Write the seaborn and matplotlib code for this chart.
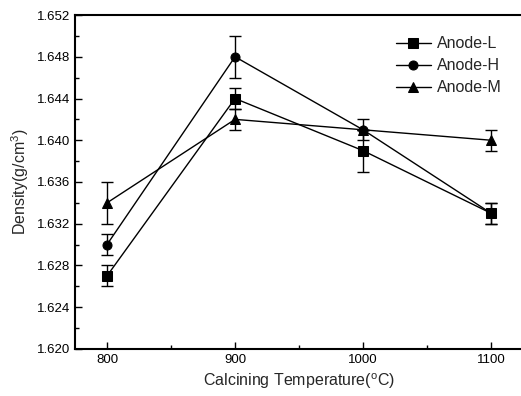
import numpy as np
import pandas as pd
import matplotlib
matplotlib.use("Agg")
import matplotlib.pyplot as plt
from matplotlib.ticker import MultipleLocator
import seaborn as sns

#Data
temps = [800, 900, 1000, 1100]
anode_l = [1.627, 1.644, 1.639, 1.633]
anode_h = [1.630, 1.648, 1.641, 1.633]
anode_m = [1.634, 1.642, 1.641, 1.640]
err_l = [0.001, 0.001, 0.002, 0.001]
err_h = [0.001, 0.002, 0.001, 0.001]
err_m = [0.002, 0.001, 0.0, 0.001]
names = ["Anode-L", "Anode-H", "Anode-M"]

df = pd.DataFrame({
    "temp": temps * 3,
    "density": anode_l + anode_h + anode_m,
    "err": err_l + err_h + err_m,
    "sample": [n for n in names for _ in temps],
})

sns.set_style("ticks")
plt.rcParams["font.family"] = ["Liberation Sans", "DejaVu Sans"]

fig = plt.figure(figsize=(5.21, 3.96), dpi=100)
ax = fig.add_axes([0.144, 0.119, 0.86, 0.843])

#Error bars
for n in names:
    d = df[df["sample"] == n]
    ax.errorbar(d["temp"], d["density"], yerr=d["err"], fmt="none",
                ecolor="black", elinewidth=1, capsize=4, capthick=1)

sns.lineplot(data=df, x="temp", y="density", style="sample",
             markers={"Anode-L": "s", "Anode-H": "o", "Anode-M": "^"},
             dashes=False, color="black", linewidth=1, markersize=6.5,
             markeredgecolor="black", ax=ax)

ax.set_xlim(775, 1125)
ax.set_ylim(1.620, 1.652)
ax.xaxis.set_major_locator(MultipleLocator(100))
ax.xaxis.set_minor_locator(MultipleLocator(50))
ax.yaxis.set_major_locator(MultipleLocator(0.004))
ax.yaxis.set_minor_locator(MultipleLocator(0.002))
ax.yaxis.set_major_formatter(matplotlib.ticker.FormatStrFormatter("%.3f"))
ax.tick_params(which="both", direction="in", colors="black", labelsize=9.5, top=False, right=False)
ax.tick_params(which="major", length=5, width=1)
ax.tick_params(which="minor", length=3, width=1)

for s in ["left", "bottom", "top"]:
    ax.spines[s].set_linewidth(1.5)
    ax.spines[s].set_color("black")
ax.spines["right"].set_visible(False)

ax.set_xlabel("Calcining Temperature($^{\\mathregular{o}}$C)", fontsize=11.5)
ax.set_ylabel("Density(g/cm$^{\\mathregular{3}}$)", fontsize=11.5)

leg = ax.legend(loc="upper right", frameon=False, fontsize=11.5, handlelength=2.2,
                handletextpad=0.4, labelspacing=0.45, bbox_to_anchor=(0.985, 0.98))

fig.savefig("out.png", dpi=100)
